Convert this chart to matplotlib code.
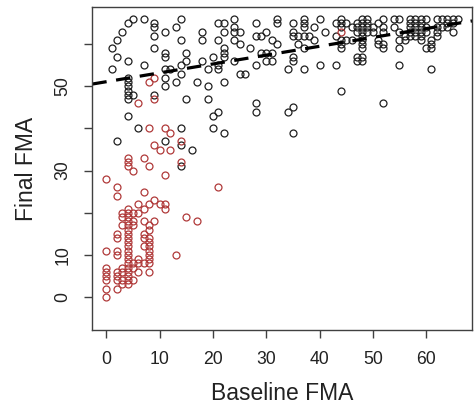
import numpy as np
import matplotlib.pyplot as plt

plt.rcParams['font.family'] = ['Liberation Sans', 'DejaVu Sans']

# red points (non-fitters): baseline FMA -> list of final FMA values
red_points = {
    0: [0, 2, 4, 5, 6, 7, 11, 28],
    2: [2, 4, 5, 6, 10, 11, 14, 15, 24, 26],
    3: [3, 4, 6, 7, 17, 19, 20],
    4: [3, 4, 5, 6, 7, 8, 9, 10, 11, 12, 13, 14, 15, 16, 17, 18, 19, 20, 21,
        31, 32, 33],
    5: [4, 7, 8, 17, 18, 20, 30],
    6: [6, 8, 9, 20, 22, 46],
    7: [8, 12, 14, 15, 18, 21, 25, 33],
    8: [6, 8, 9, 10, 11, 12, 13, 14, 16, 17, 22, 31, 40, 51],
    9: [18, 23, 36, 47, 52],
    10: [22, 35],
    11: [21, 22, 29, 40],
    12: [35, 39],
    13: [10],
    14: [32, 37],
    15: [19],
    17: [18],
    21: [26],
    44: [63],
}

# black points (fitters): baseline FMA -> list of final FMA values
black_points = {
    1: [59, 54],
    2: [61, 57, 37],
    3: [63],
    4: [65, 56, 52, 51, 50, 49, 48, 47, 43],
    5: [66, 48],
    6: [40],
    7: [66, 55],
    9: [65, 64, 62, 59, 48],
    11: [63, 58, 57, 54, 52, 50, 37],
    12: [54],
    13: [64, 51],
    14: [66, 61, 55, 53, 40, 36, 31],
    15: [58, 56, 47],
    16: [35],
    17: [51],
    18: [63, 61, 56],
    19: [54, 50, 47],
    20: [57, 43, 40],
    21: [65, 61, 55, 54, 44],
    22: [65, 63, 59, 58, 57, 51, 39],
    24: [66, 64, 63, 61, 56],
    25: [63, 60, 53],
    26: [53],
    27: [59],
    28: [65, 62, 55, 46, 44],
    29: [62, 58],
    30: [63, 58, 56],
    31: [61, 58, 56],
    32: [66, 65, 60],
    34: [54, 44],
    35: [65, 63, 62, 57, 56, 45, 39],
    36: [62, 60],
    37: [66, 65, 64, 62, 59, 54],
    38: [62],
    39: [64, 61],
    40: [66, 55],
    41: [63],
    43: [65, 62, 55],
    44: [66, 65, 64, 61, 60, 59, 49],
    45: [65, 61],
    46: [64, 61],
    47: [65, 64, 63, 57, 56],
    48: [66, 65, 64, 63, 62, 61, 60, 59, 57, 56],
    49: [66, 65, 64, 63],
    50: [64, 63],
    51: [65, 61, 60],
    52: [66, 64, 63, 60, 59, 46],
    54: [66, 64],
    55: [66, 63, 61, 59, 55],
    56: [62, 61],
    57: [66, 65, 64, 63, 62],
    58: [66, 65, 64, 63, 62],
    59: [66, 65, 64, 63, 62, 61],
    60: [66, 64, 63, 59],
    61: [61, 60, 59, 54],
    62: [66, 64, 63, 62],
    63: [66, 64],
    64: [66, 65, 64],
    65: [66, 65, 63],
    66: [66],
}

# fitted line
line_intercept = 51.1
line_slope = 0.21

xticks = [0, 10, 20, 30, 40, 50, 60]
yticks = [0, 10, 20, 30, 40, 50, 60]
ytick_labels = ['0', '10', '', '30', '', '50', '']

red_x = [x for x, ys in red_points.items() for _ in ys]
red_y = [y for ys in red_points.values() for y in ys]
black_x = [x for x, ys in black_points.items() for _ in ys]
black_y = [y for ys in black_points.values() for y in ys]

fig = plt.figure(figsize=(4.74, 4.07), dpi=100)
ax = fig.add_axes([0.195, 0.189, 0.801, 0.794])

ax.plot(black_x, black_y, 'o', mfc='none', mec='#202020', ms=5.0, mew=0.9)
ax.plot(red_x, red_y, 'o', mfc='none', mec='#b03a3a', ms=5.0, mew=0.9)
ax.axline((0, line_intercept), slope=line_slope, color='black', lw=2.3,
          dashes=(4.5, 3))

ax.set_xlim(-2.64, 68.64)
ax.set_ylim(-7.84, 68.84)
ax.set_xticks(xticks)
ax.set_yticks(yticks)
ax.set_yticklabels(ytick_labels, rotation=90, va='center')

for s in ax.spines.values():
    s.set_color('#404040')
    s.set_linewidth(1.0)
ax.tick_params(length=6, width=1.0, color='#404040', labelsize=12.7,
               labelcolor='#222222', pad=9)

ax.set_xlabel('Baseline FMA', fontsize=16.5, color='#222222', labelpad=10)
ax.set_ylabel('Final FMA', fontsize=16.5, color='#222222', labelpad=12)

fig.savefig('out.png', dpi=100)
